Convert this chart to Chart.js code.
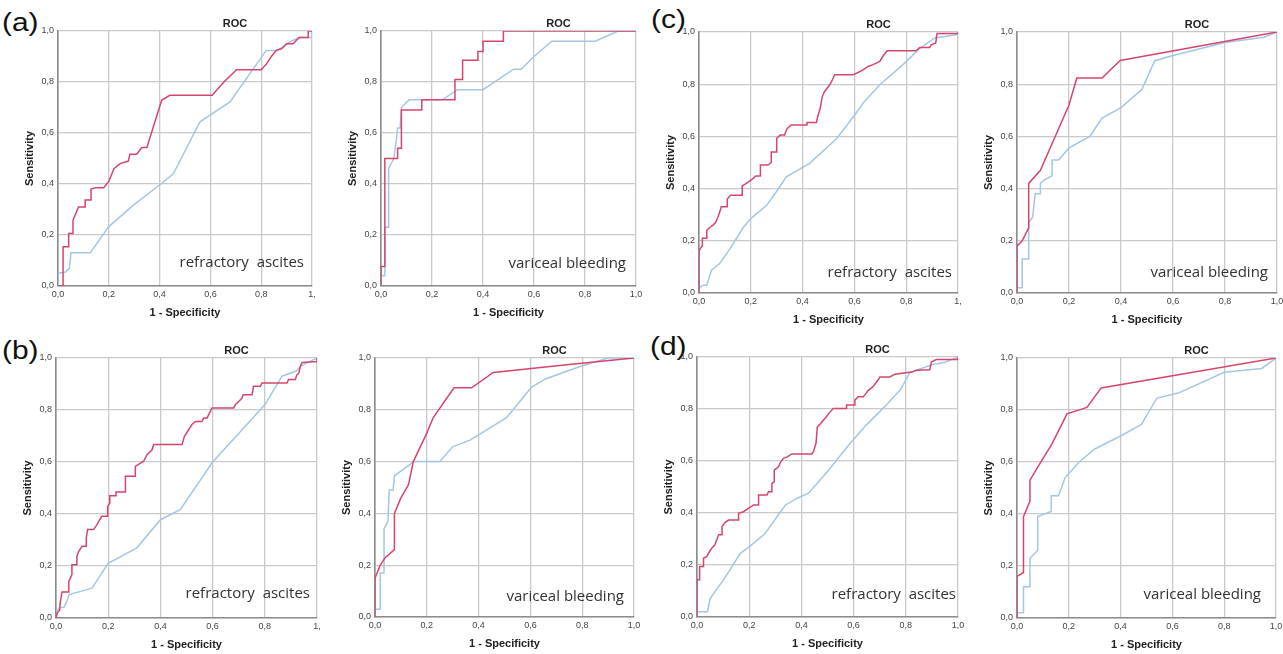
<!DOCTYPE html>
<html><head><meta charset="utf-8">
<script src="https://cdn.jsdelivr.net/npm/chart.js@4.4.1/dist/chart.umd.min.js"></script>
<style>
html,body{margin:0;padding:0;background:#fff;width:1283px;height:654px;overflow:hidden;position:relative}
canvas{position:absolute}
.lbl{position:absolute;font-family:"Liberation Sans",Arial,sans-serif;font-size:26px;line-height:26px;color:#111;transform:scaleX(1.15);transform-origin:left top}
</style></head><body>
<div class="lbl" style="left:2px;top:9px">(a)</div>
<div class="lbl" style="left:651px;top:6px">(c)</div>
<div class="lbl" style="left:2px;top:337px">(b)</div>
<div class="lbl" style="left:650px;top:333px">(d)</div>
<script>
// ---- tick labels ----
const yTickLabels = ['0,0','0,2','0,4','0,6','0,8','1,0'];
const xTickLabels = ['0,0','0,2','0,4','0,6','0,8','1,0'];
const xTickLabelsCut = ['0,0','0,2','0,4','0,6','0,8','1,'];
const noteAscites = 'refractory  ascites';
const noteBleeding = 'variceal bleeding';

// ---- (a) refractory ascites ----
const aAscitesRed = [[0,0],[0.02,0],[0.02,0.154],[0.042,0.154],[0.042,0.206],[0.059,0.206],[0.059,0.258],[0.081,0.31],[0.107,0.31],[0.107,0.337],[0.13,0.337],[0.13,0.38],[0.147,0.385],[0.18,0.385],[0.2,0.41],[0.22,0.46],[0.245,0.48],[0.277,0.49],[0.283,0.517],[0.31,0.517],[0.33,0.543],[0.35,0.543],[0.408,0.728],[0.44,0.748],[0.607,0.748],[0.653,0.8],[0.703,0.848],[0.8,0.848],[0.82,0.87],[0.84,0.9],[0.86,0.925],[0.88,0.93],[0.9,0.95],[0.925,0.95],[0.95,0.975],[0.985,0.975],[0.985,1],[1,1]];
const aAscitesBlue = [[0,0],[0,0.05],[0.03,0.055],[0.045,0.07],[0.051,0.13],[0.127,0.13],[0.199,0.232],[0.297,0.317],[0.402,0.398],[0.454,0.44],[0.559,0.644],[0.677,0.722],[0.82,0.924],[0.866,0.924],[0.912,0.957],[0.95,0.975],[1,0.975],[1,1]];
// ---- (a) variceal bleeding ----
const aBleedingRed = [[0,0],[0,0.076],[0.015,0.076],[0.015,0.5],[0.065,0.5],[0.065,0.54],[0.08,0.54],[0.08,0.69],[0.16,0.69],[0.16,0.73],[0.29,0.73],[0.29,0.81],[0.32,0.81],[0.32,0.885],[0.38,0.885],[0.38,0.92],[0.4,0.92],[0.4,0.96],[0.48,0.96],[0.48,1],[1,1]];
const aBleedingBlue = [[0,0],[0,0.04],[0.015,0.04],[0.015,0.23],[0.03,0.23],[0.03,0.46],[0.05,0.5],[0.06,0.57],[0.065,0.62],[0.075,0.62],[0.08,0.7],[0.11,0.73],[0.24,0.73],[0.3,0.77],[0.4,0.77],[0.52,0.85],[0.55,0.85],[0.6,0.9],[0.67,0.96],[0.84,0.96],[0.93,1],[1,1]];

// ---- (b) refractory ascites ----
const bAscitesRed = [[0,0],[0.005,0.02],[0.014,0.03],[0.016,0.058],[0.023,0.1],[0.049,0.1],[0.049,0.141],[0.061,0.167],[0.061,0.205],[0.08,0.205],[0.08,0.237],[0.087,0.256],[0.1,0.276],[0.116,0.276],[0.116,0.308],[0.121,0.34],[0.144,0.34],[0.157,0.359],[0.167,0.378],[0.176,0.391],[0.198,0.391],[0.198,0.429],[0.206,0.442],[0.206,0.47],[0.23,0.47],[0.23,0.485],[0.266,0.485],[0.266,0.545],[0.304,0.545],[0.304,0.583],[0.336,0.603],[0.349,0.628],[0.368,0.647],[0.374,0.667],[0.483,0.667],[0.492,0.699],[0.508,0.724],[0.521,0.744],[0.534,0.756],[0.559,0.756],[0.566,0.769],[0.579,0.769],[0.585,0.782],[0.598,0.808],[0.681,0.808],[0.687,0.82],[0.7,0.833],[0.713,0.846],[0.717,0.859],[0.751,0.859],[0.757,0.891],[0.783,0.891],[0.789,0.904],[0.885,0.904],[0.891,0.917],[0.917,0.917],[0.923,0.936],[0.93,0.94],[0.936,0.968],[0.943,0.983],[1,0.987],[1,1]];
const bAscitesBlue = [[0,0],[0.005,0.03],[0.015,0.04],[0.03,0.04],[0.04,0.06],[0.05,0.09],[0.138,0.115],[0.2,0.21],[0.31,0.27],[0.4,0.378],[0.476,0.417],[0.6,0.6],[0.7,0.71],[0.8,0.82],[0.866,0.93],[0.92,0.95],[0.94,0.97],[0.96,0.98],[1,1]];
// ---- (b) variceal bleeding ----
const bBleedingRed = [[0,0],[0,0.15],[0.02,0.2],[0.04,0.23],[0.075,0.26],[0.075,0.4],[0.1,0.46],[0.129,0.51],[0.148,0.6],[0.2,0.71],[0.225,0.77],[0.305,0.885],[0.373,0.885],[0.457,0.944],[0.75,0.975],[1,1]];
const bBleedingBlue = [[0,0],[0,0.03],[0.02,0.03],[0.02,0.17],[0.035,0.17],[0.035,0.34],[0.05,0.37],[0.055,0.49],[0.07,0.49],[0.075,0.545],[0.15,0.6],[0.25,0.6],[0.3,0.657],[0.367,0.683],[0.508,0.77],[0.605,0.888],[0.66,0.92],[0.8,0.97],[0.9,1],[1,1]];

// ---- (c) refractory ascites ----
const cAscitesRed = [[0,0],[0,0.16],[0.005,0.17],[0.013,0.18],[0.013,0.21],[0.03,0.21],[0.03,0.24],[0.04,0.25],[0.054,0.26],[0.064,0.27],[0.073,0.29],[0.08,0.31],[0.086,0.33],[0.109,0.33],[0.109,0.36],[0.122,0.375],[0.167,0.375],[0.167,0.41],[0.183,0.42],[0.202,0.433],[0.219,0.448],[0.237,0.448],[0.237,0.49],[0.266,0.49],[0.279,0.5],[0.279,0.54],[0.3,0.54],[0.3,0.593],[0.314,0.605],[0.33,0.605],[0.34,0.63],[0.356,0.644],[0.417,0.644],[0.417,0.653],[0.453,0.653],[0.46,0.682],[0.468,0.708],[0.476,0.753],[0.485,0.772],[0.505,0.798],[0.515,0.817],[0.524,0.836],[0.595,0.836],[0.614,0.845],[0.633,0.855],[0.653,0.868],[0.672,0.875],[0.698,0.887],[0.71,0.907],[0.726,0.928],[0.839,0.928],[0.852,0.941],[0.89,0.941],[0.897,0.951],[0.914,0.958],[0.919,0.994],[1,0.994],[1,1]];
const cAscitesBlue = [[0,0],[0,0.02],[0.015,0.03],[0.03,0.03],[0.048,0.087],[0.08,0.113],[0.12,0.17],[0.17,0.25],[0.2,0.285],[0.26,0.335],[0.3,0.39],[0.337,0.445],[0.427,0.497],[0.53,0.59],[0.6,0.68],[0.633,0.727],[0.7,0.8],[0.788,0.875],[0.85,0.935],[0.91,0.977],[1,0.99],[1,1]];
// ---- (c) variceal bleeding ----
const cBleedingRed = [[0,0],[0,0.18],[0.02,0.2],[0.04,0.24],[0.045,0.25],[0.045,0.42],[0.09,0.47],[0.2,0.72],[0.23,0.824],[0.327,0.824],[0.397,0.891],[1,1]];
const cBleedingBlue = [[0,0],[0,0.02],[0.02,0.02],[0.02,0.13],[0.045,0.13],[0.045,0.27],[0.06,0.29],[0.07,0.38],[0.09,0.38],[0.09,0.42],[0.1,0.43],[0.135,0.45],[0.135,0.51],[0.16,0.51],[0.2,0.556],[0.28,0.6],[0.327,0.67],[0.4,0.71],[0.48,0.78],[0.53,0.89],[0.6,0.91],[0.8,0.96],[0.95,0.98],[1,1]];

// ---- (d) refractory ascites ----
const dAscitesRed = [[0,0],[0,0.143],[0.01,0.143],[0.01,0.194],[0.025,0.194],[0.025,0.226],[0.038,0.233],[0.048,0.252],[0.057,0.265],[0.068,0.277],[0.076,0.297],[0.083,0.316],[0.096,0.316],[0.096,0.348],[0.108,0.364],[0.121,0.373],[0.159,0.373],[0.159,0.399],[0.178,0.405],[0.197,0.418],[0.217,0.431],[0.236,0.431],[0.236,0.469],[0.268,0.469],[0.274,0.482],[0.287,0.482],[0.287,0.514],[0.296,0.52],[0.296,0.565],[0.312,0.578],[0.321,0.597],[0.331,0.61],[0.346,0.616],[0.363,0.627],[0.44,0.627],[0.446,0.636],[0.456,0.668],[0.461,0.731],[0.474,0.744],[0.484,0.757],[0.497,0.772],[0.51,0.789],[0.522,0.802],[0.573,0.802],[0.573,0.815],[0.605,0.815],[0.605,0.834],[0.618,0.847],[0.637,0.847],[0.647,0.859],[0.656,0.872],[0.673,0.885],[0.688,0.904],[0.701,0.923],[0.739,0.923],[0.758,0.934],[0.822,0.942],[0.841,0.949],[0.892,0.951],[0.898,0.981],[0.917,0.99],[1,0.99],[1,1]];
const dAscitesBlue = [[0,0],[0,0.02],[0.04,0.02],[0.05,0.07],[0.07,0.1],[0.1,0.14],[0.166,0.245],[0.2,0.27],[0.26,0.32],[0.338,0.43],[0.38,0.455],[0.427,0.476],[0.5,0.56],[0.586,0.667],[0.65,0.74],[0.72,0.81],[0.78,0.875],[0.815,0.94],[0.9,0.97],[0.95,0.98],[1,1]];
// ---- (d) variceal bleeding ----
const dBleedingRed = [[0,0],[0,0.16],[0.025,0.175],[0.025,0.39],[0.05,0.45],[0.05,0.53],[0.08,0.58],[0.135,0.67],[0.193,0.785],[0.27,0.81],[0.325,0.885],[1,1]];
const dBleedingBlue = [[0,0],[0,0.02],[0.025,0.02],[0.025,0.12],[0.05,0.12],[0.05,0.23],[0.07,0.25],[0.08,0.26],[0.08,0.39],[0.132,0.41],[0.132,0.47],[0.16,0.47],[0.186,0.54],[0.24,0.6],[0.3,0.65],[0.4,0.7],[0.48,0.744],[0.54,0.846],[0.623,0.865],[0.8,0.945],[0.945,0.96],[1,1]];

// ---- layout / style ----
const RED = '#d6456c';
const BLUE = '#a3c6e6';
const FONT = '"Liberation Sans", Arial, sans-serif';
const PAD_L = 50, PAD_T = 30, PAD_R = 12, PAD_B = 40;

const panels = [
  {box:[58,31,312,286],  red:aAscitesRed,  blue:aAscitesBlue,  xt:xTickLabelsCut, note:noteAscites,  gap:8,  rise:23},
  {box:[381,31,636,286], red:aBleedingRed, blue:aBleedingBlue, xt:xTickLabels,    note:noteBleeding, gap:10, rise:22},
  {box:[699,32,958,293], red:cAscitesRed,  blue:cAscitesBlue,  xt:xTickLabelsCut, note:noteAscites,  gap:6,  rise:20},
  {box:[1017,32,1277,293],red:cBleedingRed,blue:cBleedingBlue, xt:xTickLabels,    note:noteBleeding, gap:9,  rise:20},
  {box:[56,358,317,618], red:bAscitesRed,  blue:bAscitesBlue,  xt:xTickLabelsCut, note:noteAscites,  gap:7,  rise:24},
  {box:[375,358,634,617],red:bBleedingRed, blue:bBleedingBlue, xt:xTickLabels,    note:noteBleeding, gap:10, rise:20},
  {box:[697,357,958,617],red:dAscitesRed,  blue:dAscitesBlue,  xt:xTickLabels,    note:noteAscites,  gap:2,  rise:22},
  {box:[1017,358,1276,618],red:dBleedingRed,blue:dBleedingBlue,xt:xTickLabels,    note:noteBleeding, gap:15, rise:23}
];

const rocPlugin = {
  id: 'roc',
  afterDraw(chart, args, opts) {
    const {ctx, chartArea: a} = chart;
    ctx.save();
    ctx.font = 'bold 11px ' + FONT;
    ctx.fillStyle = '#222';
    ctx.textAlign = 'center';
    ctx.textBaseline = 'middle';
    ctx.fillText('ROC', (a.left + a.right) / 2 + 50, a.top - 7.5);
    ctx.font = '15px "Open Sans", "Noto Sans", sans-serif';
    ctx.fillStyle = '#333';
    ctx.textAlign = 'right';
    ctx.fillText(opts.note, a.right - opts.gap, a.bottom - opts.rise);
    ctx.restore();
  }
};

const toPts = arr => arr.map(([x, y]) => ({x, y}));

function axis(title, ticks, isX) {
  return {
    type: 'linear', min: 0, max: 1,
    ticks: {stepSize: 0.2, autoSkip: false, maxRotation: 0, padding: isX ? 3 : 4,
      callback: (v, i) => ticks[i], font: {size: 9, family: FONT}, color: '#444'},
    grid: {color: '#c9c9c9', lineWidth: 1.3, drawTicks: false},
    border: {color: '#8c8c8c', width: 1.6},
    title: {display: true, text: title, color: '#222',
      font: {size: 11, weight: 'bold', family: FONT, lineHeight: 1.2},
      padding: isX ? {top: 0, bottom: 6} : {top: 15, bottom: 0}},
    afterFit: s => { if (isX) s.height = PAD_B; else s.width = PAD_L; }
  };
}

panels.forEach(p => {
  const [x0, y0, x1, y1] = p.box;
  const c = document.createElement('canvas');
  c.width = x1 - x0 + PAD_L + PAD_R;
  c.height = y1 - y0 + PAD_T + PAD_B;
  c.style.left = (x0 - PAD_L) + 'px';
  c.style.top = (y0 - PAD_T) + 'px';
  document.body.appendChild(c);
  new Chart(c, {
    type: 'scatter',
    data: {datasets: [
      {data: toPts(p.red), borderColor: RED, borderWidth: 1.5, showLine: true, pointRadius: 0, tension: 0, fill: false},
      {data: toPts(p.blue), borderColor: BLUE, borderWidth: 1.5, showLine: true, pointRadius: 0, tension: 0, fill: false}
    ]},
    options: {
      responsive: false, animation: false, devicePixelRatio: 1,
      layout: {padding: {top: PAD_T, right: PAD_R, left: 0, bottom: 0}},
      plugins: {legend: {display: false}, tooltip: {enabled: false},
        roc: {note: p.note, gap: p.gap, rise: p.rise}},
      scales: {
        x: axis('1 - Specificity', p.xt, true),
        y: axis('Sensitivity', yTickLabels, false)
      }
    },
    plugins: [rocPlugin]
  });
});
</script>
</body></html>
